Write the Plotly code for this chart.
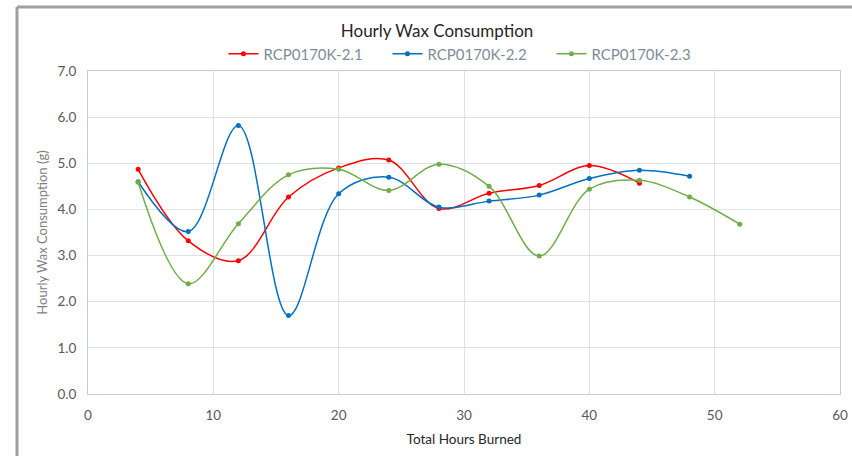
import plotly.graph_objects as go

hours_21 = [4, 8, 12, 16, 20, 24, 28, 32, 36, 40, 44]
wax_21 = [4.87, 3.32, 2.89, 4.27, 4.90, 5.07, 4.02, 4.35, 4.52, 4.95, 4.57]

hours_22 = [4, 8, 12, 16, 20, 24, 28, 32, 36, 40, 44, 48]
wax_22 = [4.60, 3.52, 5.82, 1.70, 4.34, 4.70, 4.05, 4.18, 4.31, 4.67, 4.85, 4.72]

hours_23 = [4, 8, 12, 16, 20, 24, 28, 32, 36, 40, 44, 48, 52]
wax_23 = [4.59, 2.39, 3.69, 4.75, 4.87, 4.41, 4.98, 4.50, 2.99, 4.44, 4.63, 4.27, 3.68]

series_names = ["RCP0170K-2.1", "RCP0170K-2.2", "RCP0170K-2.3"]
colors = ["#FF0000", "#0070C0", "#70AD47"]

font_family = "Lato, 'Open Sans', sans-serif"

fig = go.Figure()
for name, xs, ys, c in zip(series_names, [hours_21, hours_22, hours_23],
                           [wax_21, wax_22, wax_23], colors):
    fig.add_trace(go.Scatter(
        x=xs, y=ys, name=name, mode="lines+markers",
        line=dict(color=c, width=1.5, shape="spline", smoothing=1.0),
        marker=dict(color=c, size=5),
    ))

fig.update_layout(
    width=852, height=456,
    margin=dict(l=88, r=12, t=71, b=62, autoexpand=False),
    paper_bgcolor="white", plot_bgcolor="white",
    font=dict(family=font_family, color="#595959"),
    title=dict(text="Hourly Wax Consumption", x=0.513, xanchor="center",
               xref="container", yref="container",
               y=1 - 31 / 456, yanchor="middle",
               font=dict(size=17, color="#262626", family=font_family)),
    legend=dict(orientation="h", xref="container", yref="container",
                x=0.551, xanchor="center", y=1 - 54 / 456, yanchor="middle",
                font=dict(size=15, color="#7f8c9a"), itemwidth=30,
                entrywidth=119, entrywidthmode="pixels",
                bgcolor="rgba(0,0,0,0)"),
    xaxis=dict(range=[0, 60], dtick=10, showgrid=True, gridcolor="#DDE1EA",
               zeroline=False, showline=True, linecolor="#C5CCDA", mirror=True,
               ticks="", automargin=False, ticklabelstandoff=9,
               tickfont=dict(size=13.5, color="#595959"),
               title=dict(text="Total Hours Burned", font=dict(size=13.5, color="#262626"),
                          standoff=12)),
    yaxis=dict(range=[0, 7], dtick=1, tickformat=".1f", showgrid=True,
               gridcolor="#DDE1EA", zeroline=False, showline=True,
               linecolor="#C5CCDA", mirror=True, ticks="", automargin=False,
               ticklabelstandoff=8,
               tickfont=dict(size=13.5, color="#595959"),
               title=dict(text="Hourly Wax Consumption (g)",
                          font=dict(size=13, color="#7f7f7f"), standoff=6)),
    showlegend=True,
)

fig.add_shape(type="line", xref="paper", yref="paper",
              x0=-0.0944, x1=1.1, y0=1.198, y1=1.198,
              line=dict(color="#A0A0A0", width=3))
fig.add_shape(type="line", xref="paper", yref="paper",
              x0=-0.0944, x1=-0.0944, y0=1.198, y1=-0.3,
              line=dict(color="#A0A0A0", width=3))

fig.write_html("out.html", config={"displayModeBar": False},
               post_script="document.body.style.margin='0';")
